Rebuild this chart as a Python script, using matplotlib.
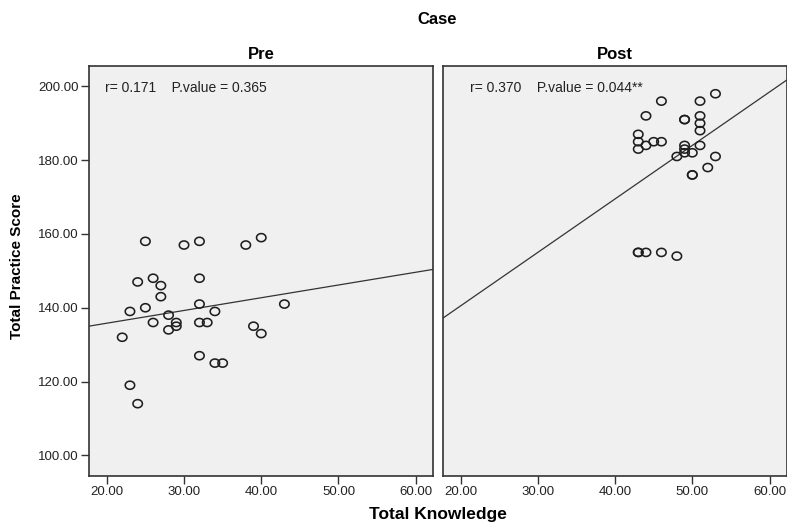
import numpy as np
import matplotlib
matplotlib.use("Agg")
import matplotlib.pyplot as plt
from matplotlib.ticker import FormatStrFormatter
from matplotlib.path import Path

plt.rcParams['font.family'] = ['Liberation Sans', 'DejaVu Sans']

# Pre panel data
pre_knowledge = [25, 30, 32, 38, 40, 24, 26, 27, 32, 27, 23, 25, 32, 34, 43,
                 28, 26, 29, 29, 32, 33, 28, 39, 40, 22, 32, 34, 35, 23, 24]
pre_practice = [158, 157, 158, 157, 159, 147, 148, 146, 148, 143, 139, 140, 141, 139, 141,
                138, 136, 136, 135, 136, 136, 134, 135, 133, 132, 127, 125, 125, 119, 114]

# Post panel data
post_knowledge = [53, 46, 51, 44, 49, 49, 51, 51, 51, 43, 43, 43, 44, 45, 46,
                  49, 49, 49, 51, 50, 48, 53, 52, 50, 50, 43, 43, 44, 46, 48]
post_practice = [198, 196, 196, 192, 191, 191, 192, 190, 188, 187, 185, 183, 184, 185, 185,
                 184, 183, 182, 184, 182, 181, 181, 178, 176, 176, 155, 155, 155, 155, 154]

panel_titles = ["Pre", "Post"]
stats_text = ["r= 0.171    P.value = 0.365", "r= 0.370    P.value = 0.044**"]
x_ticks = [20, 30, 40, 50, 60]
y_ticks = [100, 120, 140, 160, 180, 200]

fig = plt.figure(figsize=(7.87, 5.23), dpi=100)
W, H = 787, 523

def add_ax(x0, x1, y0, y1):
    return fig.add_axes([x0 / W, 1 - y1 / H, (x1 - x0) / W, (y1 - y0) / H])

axes = [add_ax(89.4, 432.7, 65.7, 476), add_ax(443.3, 786.5, 65.7, 476)]
datasets = [(pre_knowledge, pre_practice), (post_knowledge, post_practice)]
text_x_px = [105, 470]

# slightly wide oval marker, as in the reference
t = np.linspace(0, 2 * np.pi, 60)
oval = Path(np.column_stack([np.cos(t), 0.86 * np.sin(t)]), closed=True)

for i, (ax, (xs, ys)) in enumerate(zip(axes, datasets)):
    xs = np.array(xs, float)
    ys = np.array(ys, float)
    ax.set_facecolor('#f0f0f0')
    ax.set_xlim(17.75, 62.2)
    ax.set_ylim(94.4, 205.6)
    ax.scatter(xs, ys, s=46, marker=oval, facecolors='none', edgecolors='#1e1e1e',
               linewidths=1.15, zorder=3)
    b, a = np.polyfit(xs, ys, 1)
    lx = np.array(ax.get_xlim())
    ax.plot(lx, a + b * lx, color='#333333', lw=0.9, zorder=2)
    ax.set_xticks(x_ticks)
    ax.xaxis.set_major_formatter(FormatStrFormatter('%.2f'))
    ax.set_yticks(y_ticks)
    ax.yaxis.set_major_formatter(FormatStrFormatter('%.2f'))
    ax.tick_params(axis='both', direction='out', length=6, width=1.0, color='#333333',
                   labelsize=9.5, labelcolor='#222222', pad=1.5)
    if i == 1:
        ax.tick_params(axis='y', left=False, labelleft=False)
    for sp in ax.spines.values():
        sp.set_color('#333333')
        sp.set_linewidth(1.2)
    ax.set_title(panel_titles[i], fontsize=12, fontweight='bold', pad=5)
    ax.text(text_x_px[i] / W, 1 - 88 / H, stats_text[i], transform=fig.transFigure,
            fontsize=10, color='#222222', va='center', ha='left')

fig.text(437.5 / W, 1 - 20 / H, "Case", ha='center', va='center', fontsize=12, fontweight='bold')
fig.text(437.5 / W, 1 - 514 / H, "Total Knowledge", ha='center', va='center', fontsize=12.5, fontweight='bold')
fig.text(17 / W, 1 - 266 / H, "Total Practice Score", ha='center', va='center', rotation=90,
         fontsize=11, fontweight='bold')

fig.savefig("out.png", dpi=100)
